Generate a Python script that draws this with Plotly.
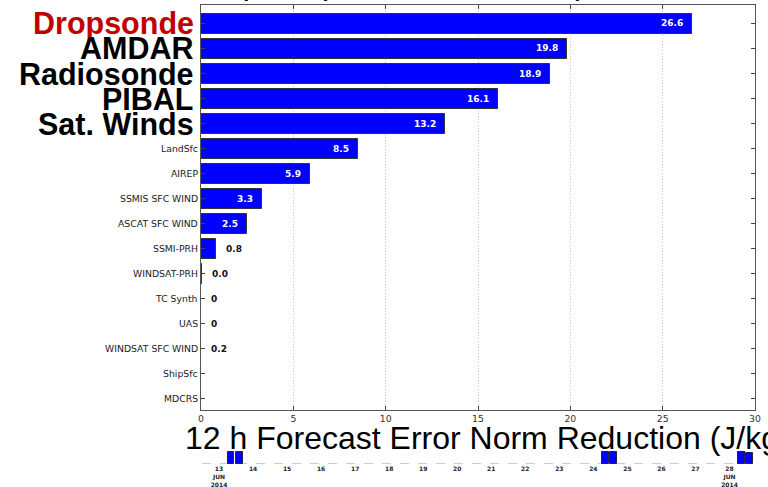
import plotly.graph_objects as go

# ---------------- data ----------------
obs_types = ["Dropsonde", "AMDAR", "Radiosonde", "PIBAL", "Sat. Winds", "LandSfc", "AIREP",
             "SSMIS SFC WIND", "ASCAT SFC WIND", "SSMI-PRH", "WINDSAT-PRH", "TC Synth", "UAS",
             "WINDSAT SFC WIND", "ShipSfc", "MDCRS"]
impact = [26.6, 19.8, 18.9, 16.1, 13.2, 8.5, 5.9, 3.3, 2.5, 0.8, 0.04, 0.0, 0.0, 0.0, 0.0, 0.0]
impact_labels = ["26.6", "19.8", "18.9", "16.1", "13.2", "8.5", "5.9", "3.3", "2.5", "0.8",
                 "0.0", "0", "0", "0.2", "", ""]
x_ticks = [0, 5, 10, 15, 20, 25, 30]

cycle_times = ["2014-06-13 06:00", "2014-06-13 12:00", "2014-06-24 06:00",
               "2014-06-24 12:00", "2014-06-28 06:00", "2014-06-28 12:00"]
cycle_counts = [12, 12, 12, 12, 13, 11]
day_ticks = ["2014-06-%02d" % d for d in range(13, 29)]
day_labels = ["13<br>JUN<br>2014"] + [str(d) for d in range(14, 28)] + ["28<br>JUN<br>2014"]

title_text = "Observation Impact (13-28 JUN 2014)"
xlabel_text = "12 h Forecast Error Norm Reduction (J/kg)"

# ---------------- layout constants ----------------
W, H = 768, 487
ax_l, ax_r, ax_t, ax_b = 201, 755, 5, 410
tl_t, tl_b = 451, 464

n = len(obs_types)
rows = list(range(n))
n_emph = 5

fig = go.Figure()
fig.add_trace(go.Bar(
    x=impact, y=rows, orientation="h", width=0.8,
    marker=dict(color="#0000ff", line=dict(color="#333333", width=1)),
    xaxis="x", yaxis="y", showlegend=False, hoverinfo="skip"))

fig.add_trace(go.Bar(
    x=cycle_times, y=cycle_counts, width=0.2 * 86400000, offset=0,
    marker=dict(color="#0000ff", line=dict(color="#222244", width=1)),
    xaxis="x2", yaxis="y2", showlegend=False, hoverinfo="skip"))

ann = []
# category labels
for i, name in enumerate(obs_types):
    if i < n_emph:
        ann.append(dict(x=ax_l / W, xref="paper", y=i, yref="y", text="<b>%s</b>" % name,
                        xanchor="right", yanchor="middle", xshift=-5, showarrow=False,
                        font=dict(family="Liberation Sans, Arial", size=30.5,
                                  color="#c00000" if i == 0 else "#000000")))
    else:
        ann.append(dict(x=ax_l / W, xref="paper", y=i, yref="y", text=name,
                        xanchor="right", yanchor="middle", xshift=-1, showarrow=False,
                        font=dict(family="DejaVu Sans", size=9.3, color="#222222")))
# value labels
for i, (v, lab) in enumerate(zip(impact, impact_labels)):
    if not lab:
        continue
    inside = v >= 2.0
    ann.append(dict(x=v, xref="x", y=i, yref="y", text="<b>%s</b>" % lab,
                    xanchor="right" if inside else "left", yanchor="middle",
                    xshift=-7 if inside else 8, showarrow=False,
                    font=dict(family="DejaVu Sans", size=9,
                              color="#ffffff" if inside else "#111111")))
# x-axis label
ann.append(dict(x=183 / W, xref="paper", y=1 - 418 / H, yref="paper", text=xlabel_text,
                xanchor="left", yanchor="top", showarrow=False,
                font=dict(family="Liberation Sans, Arial", size=32, color="#000000")))
# title (mostly above the visible page)
ann.append(dict(x=10 / W, xref="paper", y=1 - 3 / H, yref="paper", text=title_text,
                xanchor="left", yanchor="bottom", showarrow=False,
                font=dict(family="Liberation Sans, Arial", size=34, color="#000000")))

fig.update_layout(
    width=W, height=H, margin=dict(l=0, r=0, t=0, b=0, autoexpand=False),
    paper_bgcolor="white", plot_bgcolor="white", bargap=0,
    annotations=ann,
    xaxis=dict(domain=[ax_l / W, ax_r / W], range=[0, 30], tickvals=x_ticks,
               ticks="inside", ticklen=4, tickcolor="#444", mirror="ticks",
               showline=True, linecolor="#555", linewidth=1, automargin=False,
               showgrid=True, gridcolor="#c4c4c4", griddash="1px,2px", gridwidth=1,
               zeroline=False, tickfont=dict(family="DejaVu Sans", size=9.3, color="#333"),
               anchor="y"),
    yaxis=dict(domain=[1 - ax_b / H, 1 - ax_t / H], range=[15.46, -0.74], tickvals=rows,
               ticks="inside", ticklen=4, tickcolor="#444", mirror="ticks",
               showline=True, linecolor="#555", linewidth=1, showticklabels=False,
               showgrid=False, zeroline=False, anchor="x", automargin=False),
    xaxis2=dict(domain=[202 / W, ax_r / W], type="date",
                range=["2014-06-12 12:00", "2014-06-28 18:00"],
                tickvals=day_ticks, ticktext=day_labels, ticks="", showline=False,
                showgrid=False, zeroline=False, anchor="y2", automargin=False,
                tickfont=dict(family="DejaVu Sans", size=6, color="#222", weight="bold")),
    yaxis2=dict(domain=[1 - tl_b / H, 1 - tl_t / H], range=[0, 13], visible=False,
                anchor="x2", automargin=False),
    shapes=[dict(type="line", xref="x2 domain", yref="y2", x0=0, x1=1, y0=0, y1=0,
                 line=dict(color="#cccccc", width=2, dash="dash"), layer="below")],
)

fig.write_html("out.html")
